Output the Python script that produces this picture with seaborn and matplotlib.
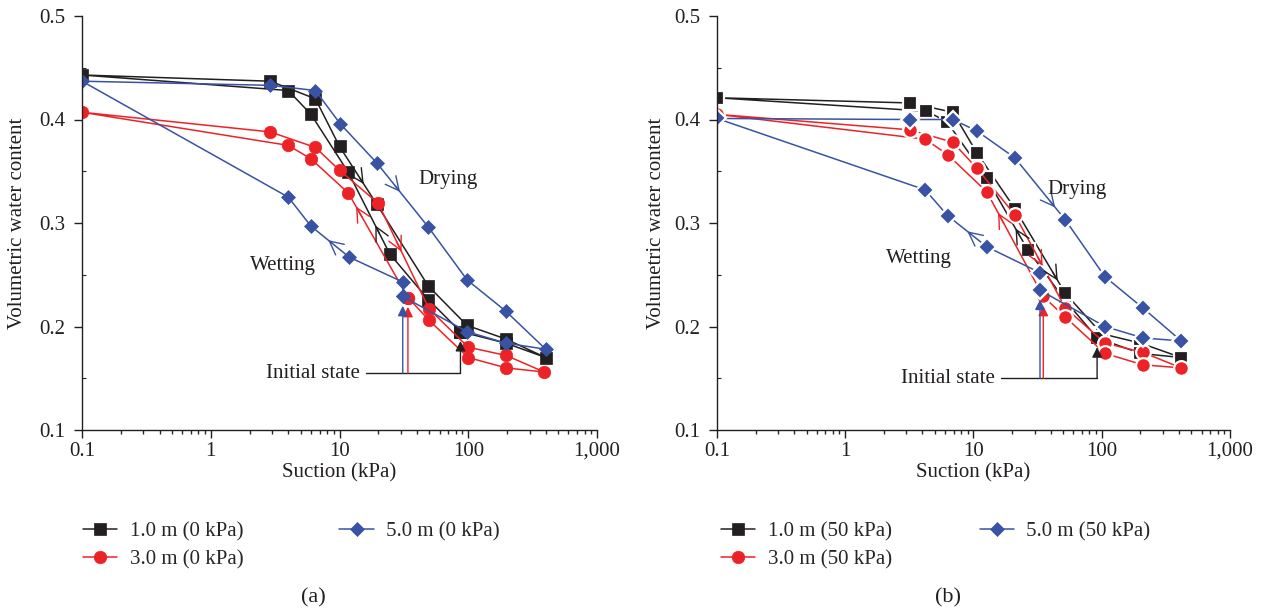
import numpy as np
import pandas as pd
import matplotlib
matplotlib.use("Agg")
import matplotlib.pyplot as plt
import seaborn as sns
from matplotlib.ticker import FixedLocator, FixedFormatter, MultipleLocator, LogLocator, NullFormatter

# Each path: initial state -> wetting -> 0.1 kPa -> drying -> 400 kPa -> back to initial state
# (a) 0 kPa
a_black_suction = [87, 49, 24.6, 11.7, 6.0, 4.0, 0.1, 2.9, 6.5, 10, 19.5, 49, 98, 195, 400, 195, 87]
a_black_theta = [0.195, 0.226, 0.270, 0.349, 0.405, 0.428, 0.443, 0.437, 0.420, 0.374, 0.318, 0.239, 0.201, 0.188, 0.170, 0.184, 0.195]
a_red_suction = [34, 11.7, 6.0, 4.0, 0.1, 2.9, 6.5, 10, 20, 49.6, 100, 197, 390, 197, 100, 49.6, 34]
a_red_theta = [0.228, 0.329, 0.362, 0.375, 0.407, 0.388, 0.373, 0.351, 0.319, 0.217, 0.180, 0.172, 0.156, 0.160, 0.170, 0.206, 0.228]
a_blue_suction = [31, 31, 11.9, 6.0, 4.0, 0.1, 2.9, 6.5, 10.1, 19.5, 49, 98, 195, 400, 195, 98, 31]
a_blue_theta = [0.229, 0.243, 0.267, 0.297, 0.325, 0.437, 0.433, 0.428, 0.396, 0.358, 0.296, 0.245, 0.215, 0.178, 0.184, 0.195, 0.229]

# (b) 50 kPa
b_black_suction = [92, 52, 26.5, 12.7, 6.2, 4.3, 0.1, 3.2, 6.9, 10.6, 21, 52, 100, 200, 417, 200, 92]
b_black_theta = [0.189, 0.225, 0.274, 0.343, 0.398, 0.408, 0.421, 0.416, 0.407, 0.368, 0.314, 0.232, 0.193, 0.184, 0.170, 0.174, 0.189]
b_red_suction = [35, 12.7, 6.3, 4.2, 0.1, 3.2, 6.9, 10.6, 21, 52, 106, 209, 417, 209, 106, 52, 35]
b_red_theta = [0.229, 0.330, 0.366, 0.381, 0.405, 0.390, 0.378, 0.353, 0.308, 0.218, 0.184, 0.175, 0.160, 0.163, 0.174, 0.209, 0.229]
b_blue_suction = [33, 33, 12.7, 6.3, 4.2, 0.1, 3.2, 6.9, 10.6, 21, 52, 106, 209, 417, 209, 106, 33]
b_blue_theta = [0.235, 0.252, 0.277, 0.307, 0.332, 0.401, 0.400, 0.400, 0.389, 0.363, 0.303, 0.248, 0.218, 0.186, 0.189, 0.200, 0.235]

a_labels = ["1.0 m (0 kPa)", "3.0 m (0 kPa)", "5.0 m (0 kPa)"]
b_labels = ["1.0 m (50 kPa)", "3.0 m (50 kPa)", "5.0 m (50 kPa)"]
xtick_values = [0.1, 1, 10, 100, 1000]
xtick_labels = ["0.1", "1", "10", "100", "1,000"]

BLACK = "#231f20"
RED = "#ed2227"
BLUE = "#3953a4"

sns.set_style("ticks")
plt.rcParams["font.family"] = ["Liberation Serif", "DejaVu Serif"]
FS = 15
plt.rcParams["font.size"] = FS

fig = plt.figure(figsize=(12.65, 6.13), dpi=100)
ax_a = fig.add_axes([82 / 1265, 183 / 613, 515 / 1265, 414 / 613])
ax_b = fig.add_axes([717 / 1265, 183 / 613, 513 / 1265, 414 / 613])


def arrow_on(ax, xs, ys, seg, t, color):
    # open chevron along a path segment, pointing in path direction
    lx0, lx1 = np.log10(xs[seg]), np.log10(xs[seg + 1])
    y0, y1 = ys[seg], ys[seg + 1]
    p = lambda f: (10 ** (lx0 + f * (lx1 - lx0)), y0 + f * (y1 - y0))
    ax.annotate("", xy=p(t + 0.05), xytext=p(t - 0.05),
                arrowprops=dict(arrowstyle="->,head_length=0.7,head_width=0.35",
                                color=color, lw=1, shrinkA=0, shrinkB=0, mutation_scale=14))


def panel(ax, series, labels, white_edge, arrows, texts, init_text_x, init_base, label_x):
    markers = ["s", "o", "D"]
    sizes = [8.5, 9, 7.6]
    colors = [BLACK, RED, BLUE]
    for (xs, ys), lab, m, ms, c in zip(series, labels, markers, sizes, colors):
        df = pd.DataFrame({"suction": xs, "theta": ys})
        sns.lineplot(data=df, x="suction", y="theta", sort=False, estimator=None,
                     ax=ax, color=c, lw=1.1, marker=m,
                     markersize=ms + 1.6 if white_edge else ms,
                     markeredgecolor="white" if white_edge else c,
                     markeredgewidth=1.6 if white_edge else 0.5, label=lab)
    # hysteresis direction arrows
    for (xs, ys), c, ((ws, wt), (ds, dt)) in zip(series, colors, arrows):
        arrow_on(ax, xs, ys, ws, wt, c)
        arrow_on(ax, xs, ys, ds, dt, c)
    # initial state pointers
    for (xs, ys), c in zip(series, colors):
        ax.annotate("", xy=(xs[0], ys[0] - 0.009), xytext=(xs[0], init_base),
                    arrowprops=dict(arrowstyle="-|>,head_length=0.5,head_width=0.25",
                                    color=c, lw=1, shrinkA=0, shrinkB=0, mutation_scale=12))
    ax.plot([init_text_x * 1.12, series[0][0][0]], [init_base, init_base], color=BLACK, lw=1)
    ax.text(init_text_x, init_base, "Initial state", ha="right", va="center", fontsize=FS, color=BLACK)
    for (tx, ty, s) in texts:
        ax.text(tx, ty, s, ha="center", va="center", fontsize=FS, color=BLACK)

    ax.set_xscale("log")
    ax.set_xlim(0.1, 1000)
    ax.set_ylim(0.1, 0.5)
    ax.xaxis.set_major_locator(FixedLocator(xtick_values))
    ax.xaxis.set_major_formatter(FixedFormatter(xtick_labels))
    ax.xaxis.set_minor_locator(LogLocator(base=10, subs=np.arange(2, 10)))
    ax.xaxis.set_minor_formatter(NullFormatter())
    ax.yaxis.set_major_locator(MultipleLocator(0.1))
    ax.yaxis.set_minor_locator(MultipleLocator(0.05))
    ax.yaxis.set_major_formatter(matplotlib.ticker.FormatStrFormatter("%.1f"))
    ax.tick_params(axis="both", which="major", direction="out", length=6, width=1, labelsize=FS, colors=BLACK)
    ax.tick_params(axis="y", which="major", pad=6)
    ax.tick_params(axis="x", which="major", pad=2.5)
    ax.tick_params(axis="x", which="minor", direction="out", length=3, width=1)
    ax.tick_params(axis="y", which="minor", direction="in", length=3, width=0.8)
    for s in ["top", "right"]:
        ax.spines[s].set_visible(False)
    for s in ["left", "bottom"]:
        ax.spines[s].set_linewidth(1)
        ax.spines[s].set_color(BLACK)
    ax.set_xlabel("Suction (kPa)", fontsize=FS, color=BLACK)
    ax.set_ylabel("Volumetric water content", fontsize=FS, color=BLACK)
    ax.xaxis.set_label_coords(0.5, -0.08)
    ax.yaxis.set_label_coords(label_x, 0.5)
    ax.legend_.remove()


panel(ax_a,
      [(a_black_suction, a_black_theta), (a_red_suction, a_red_theta), (a_blue_suction, a_blue_theta)],
      a_labels, False,
      [((2, 0.3), (9, 0.6)), ((0, 0.82), (8, 0.41)), ((2, 0.5), (9, 0.4))],
      [(70, 0.342, "Drying"), (3.65, 0.259, "Wetting")],
      14.4, 0.155, -0.107)
panel(ax_b,
      [(b_black_suction, b_black_theta), (b_red_suction, b_red_theta), (b_blue_suction, b_blue_theta)],
      b_labels, True,
      [((2, 0.25), (10, 0.8)), ((0, 0.75), (8, 0.5)), ((2, 0.45), (9, 0.75))],
      [(64, 0.332, "Drying"), (3.75, 0.266, "Wetting")],
      14.7, 0.150, -0.099)

for ax, x0, colsp in [(ax_a, 83, 4.6), (ax_b, 721, 4.2)]:
    h, l = ax.get_legend_handles_labels()
    leg = fig.legend(h, l, loc="upper left", bbox_to_anchor=(x0 / 1265, 1 - 522 / 613),
                     bbox_transform=fig.transFigure, ncol=2, frameon=False, fontsize=FS,
                     handlelength=1.65, handletextpad=0.6, columnspacing=colsp,
                     labelspacing=0.4, borderpad=0, borderaxespad=0)
    for line, size in zip(leg.get_lines(), [8.5, 9, 7.6]):
        line.set_markeredgecolor(line.get_color())
        line.set_markeredgewidth(0.5)
        line.set_markersize(size)

fig.text(313 / 1265, 1 - 598 / 613, "(a)", ha="center", va="center", fontsize=FS + 1, color=BLACK)
fig.text(948 / 1265, 1 - 598 / 613, "(b)", ha="center", va="center", fontsize=FS + 1, color=BLACK)

fig.savefig("out.png", dpi=100)
